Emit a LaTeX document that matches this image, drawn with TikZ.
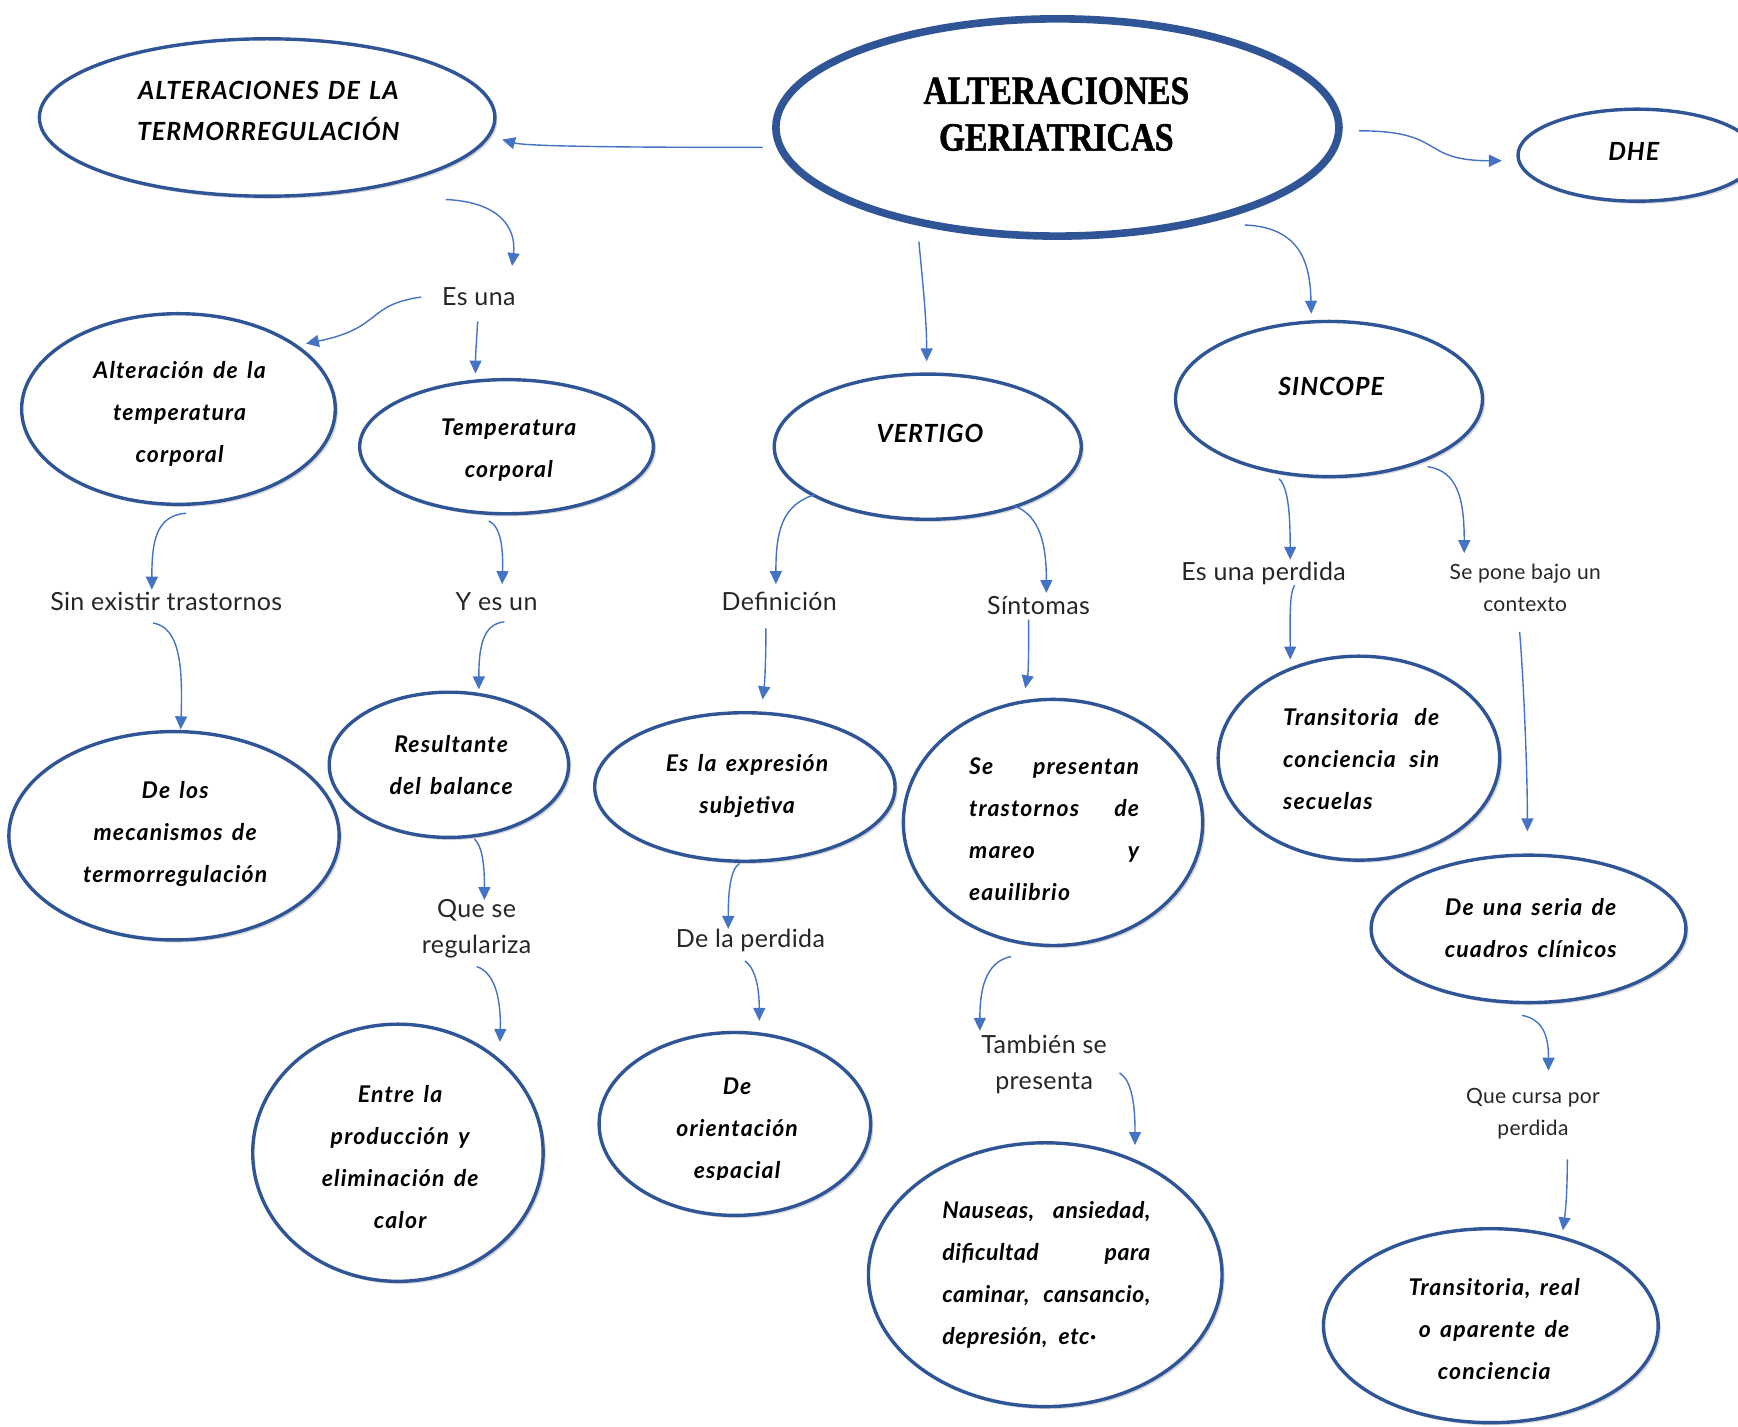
\documentclass[tikz,border=0pt]{standalone}
\usepackage{fontspec}
\setmainfont{Lato}
\newfontfamily\nfont[LetterSpace=5,WordSpace=1.5]{Lato}
\newfontfamily\nfontb[LetterSpace=2.5,WordSpace=1.3]{Lato}
\newfontfamily\cfont[LetterSpace=4,WordSpace=1.4]{Lato}
\newfontfamily\lfont[LetterSpace=1.5]{Lato}
\newfontfamily\tfont[FakeStretch=0.84,FakeBold=1.2]{Liberation Serif}
\usetikzlibrary{shapes.geometric,arrows.meta,shadows}
\definecolor{ellblue}{HTML}{2F5597}
\definecolor{arrblue}{HTML}{4472C4}
\begin{document}
\begin{tikzpicture}[x=0.5542pt,y=-0.5542pt,
  ell/.style 2 args={ellipse, draw=ellblue, line width=1.7pt, fill=white,
    minimum width={#1*0.5542pt}, minimum height={#2*0.5542pt}, inner sep=0pt,
    drop shadow={shadow xshift=1.3pt, shadow yshift=-1.3pt, opacity=0.25, fill=black!60}},
  tx/.style={font=\nfont\bfseries\itshape\fontsize{11.5}{21}\selectfont, align=center, inner sep=0pt},
  txl/.style={font=\nfont\bfseries\itshape\fontsize{11.5}{21}\selectfont, align=left, inner sep=0pt},
  txn/.style={font=\nfontb\bfseries\itshape\fontsize{11.5}{21}\selectfont, align=left, inner sep=0pt},
  captxt/.style={font=\cfont\bfseries\itshape\fontsize{12.5}{20.5}\selectfont, align=center, inner sep=0pt},
  ttl/.style={font=\tfont\bfseries\fontsize{20}{23.3}\selectfont, align=center, inner sep=0pt},
  lbl/.style={font=\lfont\fontsize{12.5}{18}\selectfont, text=black!85, align=center, inner sep=0pt},
  lbls/.style={font=\lfont\fontsize{10.5}{16}\selectfont, text=black!85, align=center, inner sep=0pt},
  arr/.style={draw=arrblue, line width=0.7pt, -{Triangle[length=6.5pt,width=6pt]}}
]
\fill[white] (0,0) rectangle (1568,1287);
\useasboundingbox (0,0) rectangle (1568,1287);

% ---------- ellipses ----------
\node[ell={411}{142}, line width=1.7pt] (term) at (241,106) {};
\node[ell={508}{196}, line width=3.8pt] (main) at (954,115) {};
\node[ell={215}{83}] (dhe) at (1477,140) {};
\node[ell={283}{172}] (alt) at (161,369) {};
\node[ell={265}{121}] (temp) at (457,403) {};
\node[ell={277}{131}] (vert) at (837,403) {};
\node[ell={277}{140}] (sinc) at (1199,360) {};
\node[ell={298}{188}] (meca) at (157,754) {};
\node[ell={216}{131}] (resu) at (405,690) {};
\node[ell={271}{134}] (expr) at (672,710) {};
\node[ell={270}{222}] (pres) at (950,742) {};
\node[ell={254}{184}] (tran) at (1226,684) {};
\node[ell={284}{133}] (seri) at (1379,838) {};
\node[ell={262}{232}] (entr) at (359,1040) {};
\node[ell={245}{165}] (orie) at (663,1014) {};
\node[ell={319}{238}] (naus) at (943,1150) {};
\node[ell={302}{175}] (real) at (1345,1196) {};

% ---------- texts in ellipses ----------
\node[captxt] (termt) at (242,100) {ALTERACIONES DE LA\\TERMORREGULACIÓN};
\node[ttl] (maint) at (953,103) {ALTERACIONES\\GERIATRICAS};
\node[captxt] (dhet) at (1474,137) {DHE};
\node[tx] (altt) at (162,373) {Alteración de la\\temperatura\\corporal};
\node[tx] (tempt) at (459,406) {Temperatura\\corporal};
\node[captxt] (vertt) at (839,391) {VERTIGO};
\node[captxt] (sinct) at (1201,349) {SINCOPE};
\node[tx] (mecat) at (158,752) {De los\\mecanismos de\\termorregulación};
\node[tx] (resut) at (407,690) {Resultante\\del balance};
\node[tx] (exprt) at (674,709) {Es la expresión\\subjetiva};
\node[txl] (prest) at (951,748) {\hbox to 85pt{Se\hfill presentan}\\\hbox to 85pt{trastornos\hfill de}\\\hbox to 85pt{mareo\hfill y}\\\hbox to 85pt{eauilibrio\hfill}};
\node[txl] (trant) at (1228,685) {\hbox to 78pt{Transitoria\hfill de}\\\hbox to 78pt{conciencia\hfill sin}\\\hbox to 78pt{secuelas\hfill}};
\node[tx] (serit) at (1381,837) {De una seria de\\cuadros clínicos};
\node[tx] (entrt) at (361,1044) {Entre la\\producción y\\eliminación de\\calor};
\begin{scope}
\clip (540,930) rectangle (790,1064);
\node[tx] (oriet) at (665,1020) {De\\orientación\\espacial};
\end{scope}
\node[txn] (naust) at (944,1150) {\hbox to 104pt{Nauseas,\hfill ansiedad,}\\\hbox to 104pt{dificultad\hfill para}\\\hbox to 104pt{caminar,\hfill cansancio,}\\\hbox to 104pt{depresión,\ \,etc·\hfill}};
\node[tx] (realt) at (1348,1199) {Transitoria, real\\o aparente de\\conciencia};

% ---------- labels ----------
\node[lbl] (lesuna) at (432,268) {Es una};
\node[lbl] (lsin) at (150,543) {Sin existir trastornos};
\node[lbl] (lyes) at (448,543) {Y es un};
\node[lbl] (lquese) at (430,838) {Que se\\regulariza};
\node[lbl] (ldef) at (703,543) {Definición};
\node[lbl] (lsint) at (937,546) {Síntomas};
\node[lbl] (ldela) at (677,848) {De la perdida};
\node[lbl] (ltamb) at (942,960) {También se\\presenta};
\node[lbl] (lesper) at (1140,517) {Es una perdida};
\node[lbls] (lsepone) at (1376,530) {Se pone bajo un\\contexto};
\node[lbls] (lcursa) at (1383,1005) {Que cursa por\\perdida};

% ---------- connector end points ----------
\coordinate (a1) at (688,133);   \coordinate (b1) at (453,126);
\coordinate (a2) at (1226,118);  \coordinate (b2) at (1355,145);
\coordinate (a3) at (829,218);   \coordinate (b3) at (836,326);
\coordinate (a4) at (1123,203);  \coordinate (b4) at (1183,283);
\coordinate (a5) at (402,180);   \coordinate (b5) at (462,240);
\coordinate (a6) at (380,268);   \coordinate (b6) at (276,310);
\coordinate (a7) at (431,290);   \coordinate (b7) at (429,337);
\coordinate (a8) at (168,463);   \coordinate (b8) at (137,532);
\coordinate (a9) at (138,562);   \coordinate (b9) at (163,658);
\coordinate (a10) at (441,470);  \coordinate (b10) at (453,527);
\coordinate (a11) at (455,561);  \coordinate (b11) at (432,622);
\coordinate (a12) at (428,757);  \coordinate (b12) at (437,812);
\coordinate (a13) at (430,872);  \coordinate (b13) at (451,940);
\coordinate (a14) at (736,446);  \coordinate (b14) at (700,527);
\coordinate (a15) at (914,456);  \coordinate (b15) at (944,535);
\coordinate (a16) at (691,567);  \coordinate (b16) at (688,631);
\coordinate (a17) at (928,559);  \coordinate (b17) at (925,621);
\coordinate (a18) at (667,779);  \coordinate (b18) at (657,838);
\coordinate (a19) at (672,867);  \coordinate (b19) at (685,921);
\coordinate (a20) at (912,863);  \coordinate (b20) at (884,930);
\coordinate (a21) at (1010,968); \coordinate (b21) at (1024,1033);
\coordinate (a22) at (1154,432); \coordinate (b22) at (1164,505);
\coordinate (a23) at (1288,421); \coordinate (b23) at (1321,499);
\coordinate (a24) at (1168,528); \coordinate (b24) at (1164,595);
\coordinate (a25) at (1371,570); \coordinate (b25) at (1378,750);
\coordinate (a26) at (1373,916); \coordinate (b26) at (1397,966);
\coordinate (a27) at (1414,1046);\coordinate (b27) at (1410,1110);

% ---------- connectors ----------
\draw[arr] (a1) .. controls (560,133) and (475,132) .. (b1);
\draw[arr] (a2) .. controls (1305,118) and (1280,145) .. (b2);
\draw[arr] (a3) .. controls (833,260) and (836,290) .. (b3);
\draw[arr] (a4) .. controls (1175,205) and (1182,240) .. (b4);
\draw[arr] (a5) .. controls (450,182) and (466,205) .. (b5);
\draw[arr] (a6) .. controls (330,275) and (345,296) .. (b6);
\draw[arr] (a7) .. controls (430,305) and (429,320) .. (b7);
\draw[arr] (a8) .. controls (140,465) and (137,490) .. (b8);
\draw[arr] (a9) .. controls (162,566) and (165,600) .. (b9);
\draw[arr] (a10) .. controls (452,475) and (454,495) .. (b10);
\draw[arr] (a11) .. controls (435,563) and (432,585) .. (b11);
\draw[arr] (a12) .. controls (437,765) and (437,790) .. (b12);
\draw[arr] (a13) .. controls (448,878) and (452,905) .. (b13);
\draw[arr] (a14) .. controls (705,455) and (700,480) .. (b14);
\draw[arr] (a15) .. controls (940,465) and (944,495) .. (b15);
\draw[arr] (a16) .. controls (691,595) and (690,615) .. (b16);
\draw[arr] (a17) .. controls (928,585) and (928,605) .. (b17);
\draw[arr] (a18) .. controls (658,785) and (657,810) .. (b18);
\draw[arr] (a19) .. controls (684,875) and (685,900) .. (b19);
\draw[arr] (a20) .. controls (888,868) and (884,895) .. (b20);
\draw[arr] (a21) .. controls (1022,975) and (1024,1000) .. (b21);
\draw[arr] (a22) .. controls (1163,440) and (1164,470) .. (b22);
\draw[arr] (a23) .. controls (1315,425) and (1321,450) .. (b23);
\draw[arr] (a24) .. controls (1163,535) and (1164,560) .. (b24);
\draw[arr] (a25) .. controls (1375,620) and (1378,700) .. (b25);
\draw[arr] (a26) .. controls (1395,920) and (1397,940) .. (b26);
\draw[arr] (a27) .. controls (1414,1080) and (1412,1095) .. (b27);
\end{tikzpicture}
\end{document}
